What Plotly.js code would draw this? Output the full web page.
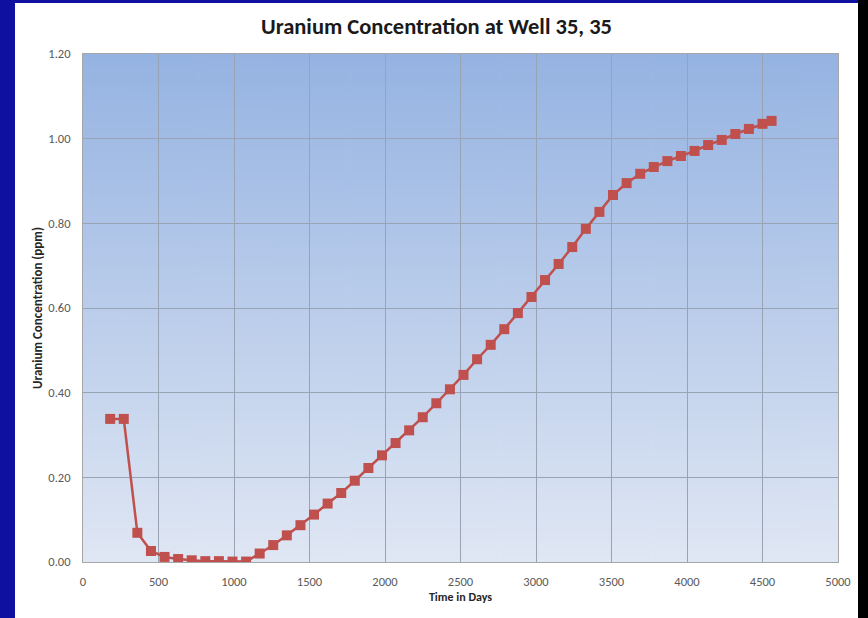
<!DOCTYPE html>
<html>
<head>
<meta charset="utf-8">
<script src="https://cdn.plot.ly/plotly-3.0.1.min.js"></script>
<style>
  html, body { margin: 0; padding: 0; width: 868px; height: 618px; overflow: hidden; background: #1010a0; }
  #rightbar { position: absolute; left: 858px; top: 0; width: 10px; height: 618px; background: #000; }
  #chart { position: absolute; left: 15px; top: 3px; width: 843px; height: 615px; background: #ffffff; }
</style>
</head>
<body>
<div id="rightbar"></div>
<div id="chart"></div>
<script>
const days = [180, 270, 360, 450, 540, 630, 720, 810, 900, 990,
              1080, 1170, 1260, 1350, 1440, 1530, 1620, 1710, 1800, 1890,
              1980, 2070, 2160, 2250, 2340, 2430, 2520, 2610, 2700, 2790,
              2880, 2970, 3060, 3150, 3240, 3330, 3420, 3510, 3600, 3690,
              3780, 3870, 3960, 4050, 4140, 4230, 4320, 4410, 4500, 4560];
const uranium = [0.338, 0.338, 0.069, 0.026, 0.012, 0.007, 0.004, 0.002, 0.002, 0.001,
                 0.001, 0.020, 0.040, 0.063, 0.087, 0.112, 0.138, 0.163, 0.192, 0.222,
                 0.252, 0.281, 0.311, 0.342, 0.375, 0.408, 0.442, 0.479, 0.513, 0.550,
                 0.588, 0.626, 0.666, 0.704, 0.744, 0.787, 0.827, 0.867, 0.895, 0.917,
                 0.933, 0.947, 0.959, 0.971, 0.985, 0.997, 1.011, 1.023, 1.035, 1.042];
const yTicks = [0, 0.2, 0.4, 0.6, 0.8, 1.0, 1.2];
const xTicks = [0, 500, 1000, 1500, 2000, 2500, 3000, 3500, 4000, 4500, 5000];

// vertical gradient for plot background
const cv = document.createElement('canvas');
cv.width = 10; cv.height = 400;
const ctx = cv.getContext('2d');
const g = ctx.createLinearGradient(0, 0, 0, 400);
g.addColorStop(0, '#95b3e2');
g.addColorStop(1, '#e0e7f4');
ctx.fillStyle = g;
ctx.fillRect(0, 0, 10, 400);
const bgURL = cv.toDataURL('image/png');

const font = "Carlito, 'Liberation Sans Narrow', 'Open Sans', sans-serif";
const gridCol = '#98a3b4';

const trace = {
  x: days, y: uranium, type: 'scatter', mode: 'lines+markers',
  line: { color: '#c0504d', width: 2.5 },
  marker: { symbol: 'square', size: 10, color: '#c0504d' },
  showlegend: false, hoverinfo: 'x+y'
};

const layout = {
  width: 843, height: 615,
  margin: { l: 68, r: 20, t: 51, b: 56 },
  paper_bgcolor: '#ffffff',
  plot_bgcolor: 'rgba(0,0,0,0)',
  font: { family: font, color: '#595959', size: 12 },
  title: { text: '<b>Uranium Concentration at Well 35, 35</b>', x: 0.5, xanchor: 'center', y: 0.962, yanchor: 'middle',
           font: { family: font, size: 22.5, color: '#1a1a1a' } },
  images: [{ source: bgURL, xref: 'paper', yref: 'paper', x: 0, y: 1, sizex: 1, sizey: 1,
             xanchor: 'left', yanchor: 'top', sizing: 'stretch', layer: 'below' }],
  xaxis: {
    range: [0, 5000], tickvals: xTicks, ticktext: xTicks.map(String),
    showgrid: true, gridcolor: gridCol, gridwidth: 1,
    showline: true, linecolor: '#a6a6a6', linewidth: 1, mirror: true,
    zeroline: false, ticks: 'outside', ticklen: 8, tickcolor: 'rgba(0,0,0,0)',
    tickfont: { family: font, size: 12.5, color: '#595959' },
    title: { text: '<b>Time in Days</b>', font: { family: font, size: 12, color: '#262626' }, standoff: 4 }
  },
  yaxis: {
    range: [0, 1.2], tickvals: yTicks, ticktext: yTicks.map(v => v.toFixed(2)),
    showgrid: true, gridcolor: gridCol, gridwidth: 1,
    showline: true, linecolor: '#a6a6a6', linewidth: 1, mirror: true,
    zeroline: false, ticks: 'outside', ticklen: 9, tickcolor: 'rgba(0,0,0,0)',
    tickfont: { family: font, size: 12.5, color: '#595959' },
    title: { text: '<b>Uranium Concentration (ppm)</b>', font: { family: font, size: 13, color: '#262626' }, standoff: 2 }
  }
};

Plotly.newPlot('chart', [trace], layout, { displayModeBar: false, staticPlot: true });
</script>
</body>
</html>
